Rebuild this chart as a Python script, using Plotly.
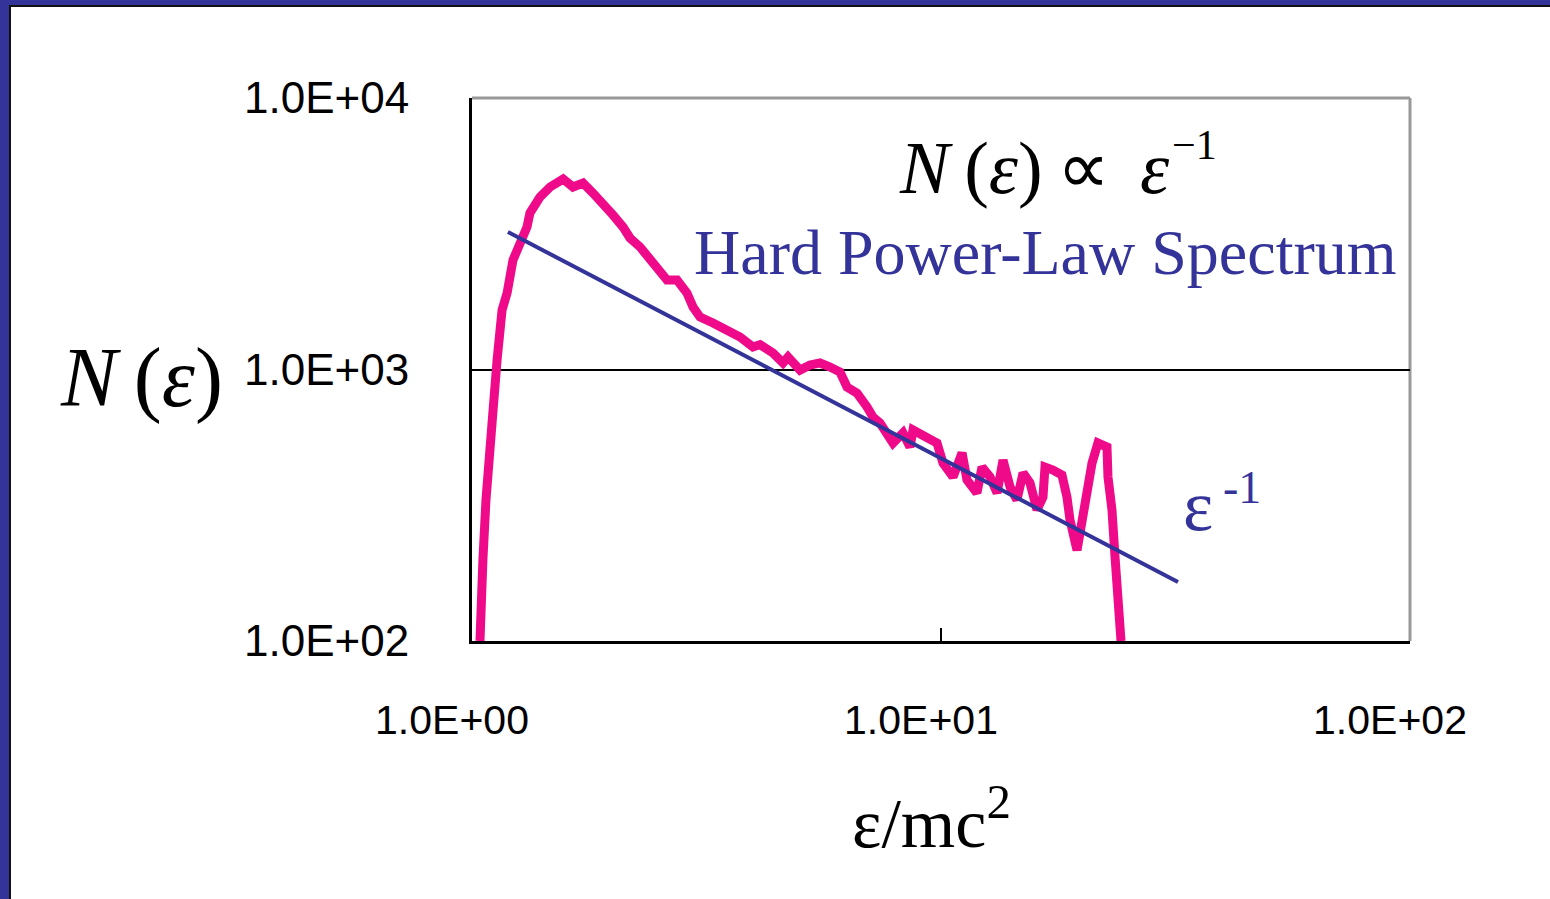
import plotly.graph_objects as go

# Energy spectrum N(eps) versus eps/mc^2 (log-log)
energy = [1.040, 1.045, 1.055, 1.071, 1.087, 1.109, 1.131, 1.159, 1.188, 1.223,
          1.254, 1.310, 1.329, 1.396, 1.467, 1.564, 1.642, 1.725, 1.811, 1.903,
          1.998, 2.099, 2.172, 2.282, 2.396, 2.517, 2.605, 2.736, 2.873, 2.960,
          3.063, 3.265, 3.498, 3.728, 3.973, 4.112, 4.383, 4.604, 4.719, 5.005,
          5.256, 5.521, 5.799, 6.091, 6.304, 6.621, 6.954, 7.162, 7.412, 7.672,
          7.901, 8.298, 8.589, 8.716, 9.336, 9.806, 10.10, 10.61, 11.09, 11.36,
          11.93, 12.23, 12.72, 13.17, 13.56, 14.04, 14.52, 14.96, 15.48, 16.02,
          16.50, 16.66, 17.33, 18.11, 18.56, 18.84, 19.50, 19.98, 20.48, 20.99,
          21.61, 22.59, 22.70, 23.15, 23.50, 23.84, 24.08, 24.20]
counts = [100, 142, 199, 331, 505, 709, 1084, 1656, 1913, 2532,
          2802, 3348, 3771, 4319, 4700, 5029, 4700, 4862, 4468, 4105,
          3707, 3348, 3050, 2826, 2532, 2325, 2136, 2136, 1913, 1699,
          1561, 1484, 1398, 1317, 1210, 1235, 1150, 1057, 1112, 995,
          1039, 1057, 1021, 979, 862, 819, 728, 668, 635, 584,
          536, 584, 518, 599, 564, 536, 452, 402, 493, 392,
          351, 437, 402, 351, 464, 369, 331, 416, 382, 304,
          339, 437, 426, 409, 339, 279, 216, 286, 360, 452,
          536, 518, 402, 304, 204, 150, 110, 100]

# Reference power law N ~ eps^-1 (drawn segment end points)
fit_energy = [1.193, 32.01]
fit_counts = [3209, 165]

x_tickvals = [1, 10, 100]
x_ticktext = ["1.0E+00", "1.0E+01", "1.0E+02"]
y_tickvals = [100, 1000, 10000]
y_ticktext = ["1.0E+02", "1.0E+03", "1.0E+04"]

W, H = 1550, 899
L, R, T, B = 472, 1410, 98, 641

def px(x):
    return (x - L) / (R - L)

def py(y):
    return (B - y) / (B - T)

PINK = "#EF0A8A"
NAVY = "#333399"
SERIF = "Liberation Serif, Times New Roman, serif"
SANS = "Liberation Sans, Arial, sans-serif"
TH = "\u2009"   # thin space

fig = go.Figure()
fig.add_trace(go.Scatter(x=energy, y=counts, mode="lines",
                         line=dict(color=PINK, width=9), showlegend=False))
fig.add_trace(go.Scatter(x=fit_energy, y=fit_counts, mode="lines",
                         line=dict(color=NAVY, width=4), showlegend=False))

shapes = [
    # slide frame: navy band with dark edge on left and top
    dict(type="rect", xref="paper", yref="paper", x0=px(0), x1=px(9), y0=py(899), y1=py(0),
         fillcolor=NAVY, line=dict(width=0), layer="above"),
    dict(type="rect", xref="paper", yref="paper", x0=px(0), x1=px(1550), y0=py(5), y1=py(0),
         fillcolor=NAVY, line=dict(width=0), layer="above"),
    dict(type="rect", xref="paper", yref="paper", x0=px(9), x1=px(11), y0=py(899), y1=py(5),
         fillcolor="#111111", line=dict(width=0), layer="above"),
    dict(type="rect", xref="paper", yref="paper", x0=px(9), x1=px(1550), y0=py(7), y1=py(5),
         fillcolor="#111111", line=dict(width=0), layer="above"),
    # grey top and right frame of the plot area
    dict(type="line", xref="paper", yref="paper", x0=0, x1=1, y0=1, y1=1,
         line=dict(color="#999999", width=3), layer="below"),
    dict(type="line", xref="paper", yref="paper", x0=1, x1=1, y0=0, y1=1,
         line=dict(color="#999999", width=3), layer="below"),
]

annotations = [
    dict(text=f"<i>N</i>{TH}(<i>ε</i>){TH}∝{TH}{TH}<i>ε</i>", x=px(897), y=py(168),
         xanchor="left", yanchor="middle",
         font=dict(family=SERIF, size=74, color="black")),
    dict(text="−1", x=px(1170), y=py(145), xanchor="left", yanchor="middle",
         font=dict(family=SERIF, size=42, color="black")),
    dict(text="Hard Power-Law Spectrum", x=px(692), y=py(252), xanchor="left", yanchor="middle",
         font=dict(family=SERIF, size=64, color=NAVY)),
    dict(text="ε", x=px(1181), y=py(506), xanchor="left", yanchor="middle",
         font=dict(family=SERIF, size=72, color=NAVY)),
    dict(text="-1", x=px(1221), y=py(488), xanchor="left", yanchor="middle",
         font=dict(family=SERIF, size=46, color=NAVY)),
    dict(text=f"<i>N</i>{TH}(<i>ε</i>)", x=px(141), y=py(378), xanchor="center", yanchor="middle",
         font=dict(family=SERIF, size=84, color="black")),
    dict(text="ε/mc<sup>2</sup>", x=px(931), y=py(818), xanchor="center", yanchor="middle",
         font=dict(family=SERIF, size=70, color="black")),
]
for a in annotations:
    a.update(xref="paper", yref="paper", showarrow=False)

fig.update_layout(
    width=W, height=H,
    margin=dict(l=L, r=W - R, t=T, b=H - B, pad=0),
    paper_bgcolor="white", plot_bgcolor="white",
    shapes=shapes, annotations=annotations,
    xaxis=dict(type="log", range=[0, 2], tickvals=x_tickvals, ticktext=x_ticktext,
               showgrid=False, zeroline=False, showline=True, linecolor="black", linewidth=3,
               ticks="inside", ticklen=13, tickwidth=2, tickcolor="black",
               ticklabelstandoff=41, ticklabelshift=-20,
               tickfont=dict(family=SANS, size=41, color="black")),
    yaxis=dict(type="log", range=[2, 4], tickvals=y_tickvals, ticktext=y_ticktext,
               showgrid=True, gridcolor="black", gridwidth=2, zeroline=False,
               showline=True, linecolor="black", linewidth=3,
               ticks="inside", ticklen=14, tickwidth=2, tickcolor="black",
               ticklabelstandoff=51,
               tickfont=dict(family=SANS, size=44, color="black")),
)

fig.write_html("out.html")
